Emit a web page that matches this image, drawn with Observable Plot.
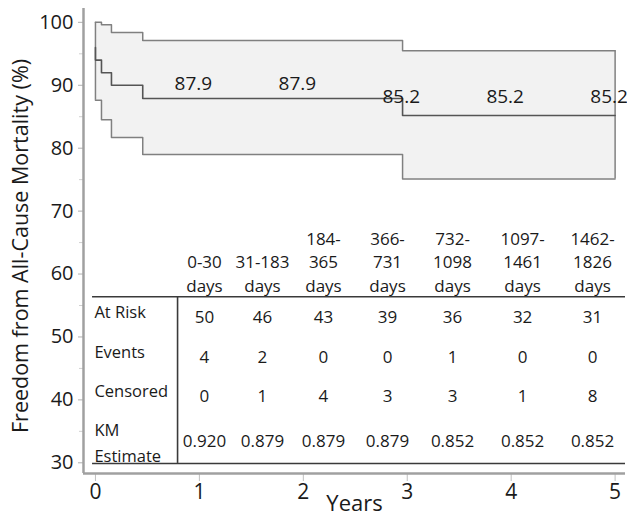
<!DOCTYPE html>
<html><head><meta charset="utf-8">
<script src="https://cdn.jsdelivr.net/npm/d3@7"></script>
<script src="https://cdn.jsdelivr.net/npm/@observablehq/plot@0.6"></script>
<style>
body{margin:0;background:#fff;}
svg{font-family:"Open Sans",sans-serif;}
</style>
</head><body><div id="chart"></div>
<script>
// ---- data ----
const kmTimes = [0, 0, 0.058, 0.154, 0.455, 2.955, 5];
const kmEstimate = [96, 94, 92, 90, 87.9, 85.2, 85.2];
const ciTimes = [0, 0.058, 0.154, 0.455, 2.955, 5];
const ciUpper = [100, 99.6, 98.4, 97.1, 95.5, 95.5];
const ciLower = [87.6, 84.5, 81.7, 79.0, 75.1, 75.1];
const labelYears = [1, 2, 3, 4, 5];
const labelValues = [87.9, 87.9, 85.2, 85.2, 85.2];
const intervals = ["0-30\ndays", "31-183\ndays", "184-\n365\ndays", "366-\n731\ndays", "732-\n1098\ndays", "1097-\n1461\ndays", "1462-\n1826\ndays"];
const rowLabels = ["At Risk", "Events", "Censored", "KM\nEstimate"];
const atRisk = [50, 46, 43, 39, 36, 32, 31];
const events = [4, 2, 0, 0, 1, 0, 0];
const censored = [0, 1, 4, 3, 3, 1, 8];
const kmTable = ["0.920", "0.879", "0.879", "0.879", "0.852", "0.852", "0.852"];
const yTicks = [30, 40, 50, 60, 70, 80, 90, 100];
const yMinorTicks = [35, 45, 55, 65, 75, 85, 95];
const xTicks = [0, 1, 2, 3, 4, 5];

// ---- layout (in scale units) ----
const xDomain = [-0.115, 5.1];
const yDomain = [28.3, 102.2];
const colX = [1.049, 1.607, 2.194, 2.81, 3.436, 4.11, 4.783];
const tableTop = 56.4, tableBottom = 29.9, tableLeft = -0.028, tableDivider = 0.79, rowLabelX = -0.01;
const rowValueY = [53.1, 46.7, 40.5, 33.4];
const rowLabelY = [54.35, 48.0, 41.8, 33.5];

const km = kmTimes.map((t, i) => ({t, v: kmEstimate[i]}));
const band = ciTimes.map((t, i) => ({t, lo: ciLower[i], hi: ciUpper[i]}));
const labels = labelYears.map((t, i) => ({t, v: labelValues[i], s: labelValues[i].toFixed(1)}));
const header = intervals.map((s, i) => ({x: colX[i], s}));
const rows = [atRisk, events, censored, kmTable];
const cells = rows.flatMap((r, j) => r.map((v, i) => ({x: colX[i], y: rowValueY[j], s: String(v)})));
const rlab = rowLabels.map((s, j) => ({y: rowLabelY[j], s}));

const txt = "#1a1a1a";
const plot = Plot.plot({
  width: 627, height: 516,
  marginLeft: 83, marginRight: 2, marginTop: 8, marginBottom: 43,
  x: {domain: xDomain, axis: null},
  y: {domain: yDomain, axis: null},
  style: {fontFamily: "'Open Sans', sans-serif", color: txt, background: "#fff"},
  marks: [
    Plot.areaY(band, {x: "t", y1: "lo", y2: "hi", curve: "step-after", fill: "#f2f2f2"}),
    Plot.lineY(band, {x: "t", y: "hi", curve: "step-after", stroke: "#808080", strokeWidth: 1.5}),
    Plot.lineY(band, {x: "t", y: "lo", curve: "step-after", stroke: "#808080", strokeWidth: 1.5}),
    Plot.ruleX([band[0], band[band.length - 1]], {x: "t", y1: "lo", y2: "hi", stroke: "#808080", strokeWidth: 1.5}),
    Plot.lineY(km, {x: "t", y: "v", curve: "step-after", stroke: "#555", strokeWidth: 1.6}),
    Plot.text(labels.filter(d => d.v > 86), {x: "t", y: "v", text: "s", dx: -6, dy: -15, fontSize: 19, fill: txt}),
    Plot.text(labels.filter(d => d.v <= 86), {x: "t", y: "v", text: "s", dx: -6, dy: -19, fontSize: 19, fill: txt}),
    // table
    Plot.ruleY([tableTop, tableBottom], {x1: tableLeft, x2: xDomain[1], stroke: "#3a3a3a", strokeWidth: 1.6}),
    Plot.ruleX([tableDivider], {y1: tableBottom, y2: tableTop, stroke: "#3a3a3a", strokeWidth: 1.6}),
    Plot.text(header, {x: "x", y: tableTop, text: "s", lineAnchor: "bottom", dy: -5, lineHeight: 1.38, fontSize: 17, fill: txt}),
    Plot.text(cells, {x: "x", y: "y", text: "s", fontSize: 17, fill: txt}),
    Plot.text(rlab, {x: rowLabelX, y: "y", text: "s", textAnchor: "start", lineHeight: 1.6, fontSize: 16.5, fill: txt}),
    // axes
    Plot.axisY(yMinorTicks, {anchor: "left", tickSize: 4, text: null, stroke: "#d0d0d0"}),
    Plot.axisY(yTicks, {anchor: "left", tickSize: 5, tickPadding: 5, fontSize: 20, stroke: "#b0b0b0", fill: txt, label: null}),
    Plot.axisX(xTicks, {anchor: "bottom", tickSize: 8, tickPadding: 3, fontSize: 21, stroke: "#c0c0c0", fill: txt, label: null}),
    Plot.ruleX([xDomain[0]], {stroke: "#a0a0a0", strokeWidth: 2.5}),
    Plot.ruleY([yDomain[0]], {stroke: "#a0a0a0", strokeWidth: 2.5}),
    Plot.text(["Freedom from All-Cause Mortality (%)"], {frameAnchor: "left", textAnchor: "middle", rotate: -90, dx: -62, dy: 5, fontSize: 21.5, fill: txt}),
    Plot.text(["Years"], {frameAnchor: "bottom", dy: 37, fontSize: 22, fill: txt})
  ]
});
document.getElementById("chart").append(plot);
</script>
</body></html>
